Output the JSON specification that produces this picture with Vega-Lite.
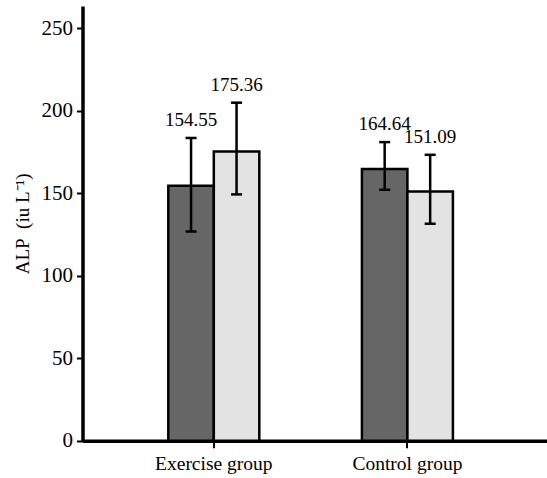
{
  "$schema": "https://vega.github.io/schema/vega-lite/v6.json",
  "width": 464.5,
  "height": 434.7,
  "autosize": "none",
  "padding": {"left": 82.5, "top": 6, "right": 0, "bottom": 37.3},
  "background": "white",
  "config": {
    "view": {"stroke": null},
    "font": "Liberation Serif",
    "axisY": {
      "titleFont": "Liberation Serif",
      "titleFontSize": 19,
      "titleFontWeight": "normal",
      "titleColor": "#000000",
      "titlePadding": 9,
      "grid": false,
      "domainWidth": 3.5,
      "domainColor": "#000000",
      "tickColor": "#000000",
      "tickWidth": 2,
      "tickSize": 6,
      "labelFont": "Liberation Serif",
      "labelFontSize": 21,
      "labelColor": "#000000",
      "labelPadding": 4
    }
  },
  "data": {
    "values": [
      {"group": "Exercise group", "series": "Series 1", "mean": 154.55, "lo": 126.8, "hi": 183.5},
      {"group": "Exercise group", "series": "Series 2", "mean": 175.36, "lo": 149.3, "hi": 204.9},
      {"group": "Control group", "series": "Series 1", "mean": 164.64, "lo": 152.1, "hi": 181.0},
      {"group": "Control group", "series": "Series 2", "mean": 151.09, "lo": 131.5, "hi": 173.3}
    ]
  },
  "encoding": {
    "x": {
      "field": "group",
      "type": "nominal",
      "sort": ["Exercise group", "Control group"],
      "scale": {"paddingInner": 0.53, "paddingOuter": 0.4646, "align": 0.477},
      "axis": {
        "title": null,
        "labelAngle": 0,
        "domainWidth": 3.5,
        "domainColor": "#000000",
        "tickColor": "#000000",
        "tickWidth": 2,
        "tickSize": 7,
        "labelFont": "Liberation Serif",
        "labelFontSize": 19.5,
        "labelColor": "#000000",
        "labelPadding": 7
      }
    },
    "xOffset": {"field": "series", "type": "nominal", "sort": ["Series 1", "Series 2"]}
  },
  "layer": [
    {
      "mark": {"type": "bar", "stroke": "black", "strokeWidth": 2.5},
      "encoding": {
        "y": {
          "field": "mean",
          "type": "quantitative",
          "title": "ALP\u00a0\u00a0(iu L\u207b\u00b9)",
          "scale": {"domain": [0, 263.5], "nice": false, "zero": true},
          "axis": {"values": [0, 50, 100, 150, 200, 250], "titleColor": "#000000"}
        },
        "color": {
          "field": "series",
          "type": "nominal",
          "scale": {"domain": ["Series 1", "Series 2"], "range": ["#666666", "#e3e3e3"]},
          "legend": null
        }
      }
    },
    {
      "mark": {"type": "rule", "strokeWidth": 2.5, "color": "black"},
      "encoding": {
        "y": {"field": "lo", "type": "quantitative", "title": "ALP\u00a0\u00a0(iu L\u207b\u00b9)"},
        "y2": {"field": "hi"}
      }
    },
    {
      "mark": {"type": "tick", "orient": "horizontal", "size": 11, "thickness": 2.5, "color": "black", "opacity": 1},
      "encoding": {"y": {"field": "lo", "type": "quantitative", "title": "ALP\u00a0\u00a0(iu L\u207b\u00b9)"}}
    },
    {
      "mark": {"type": "tick", "orient": "horizontal", "size": 11, "thickness": 2.5, "color": "black", "opacity": 1},
      "encoding": {"y": {"field": "hi", "type": "quantitative", "title": "ALP\u00a0\u00a0(iu L\u207b\u00b9)"}}
    },
    {
      "mark": {"type": "text", "dy": -12, "baseline": "alphabetic", "align": "center", "fontSize": 19, "font": "Liberation Serif", "color": "black"},
      "encoding": {
        "y": {"field": "hi", "type": "quantitative", "title": "ALP\u00a0\u00a0(iu L\u207b\u00b9)"},
        "text": {"field": "mean", "type": "quantitative", "format": ".2f"}
      }
    }
  ]
}
